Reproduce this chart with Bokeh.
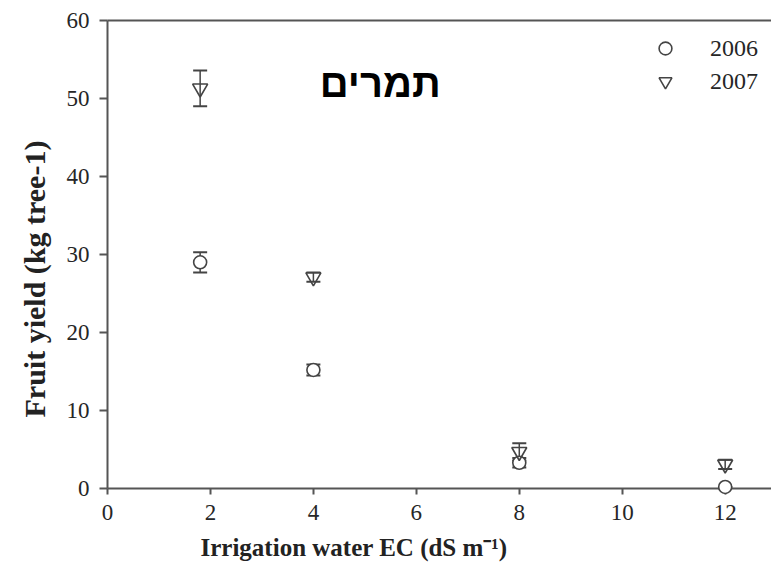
from bokeh.plotting import figure
from bokeh.models import (ColumnDataSource, Whisker, TeeHead, Range1d, LinearAxis,
                          FixedTicker, Legend, LegendItem, Label, Title)
from bokeh.embed import file_html
from bokeh.resources import INLINE

# ---- data ----
ec = [1.8, 4.0, 8.0, 12.0]
yield_2006 = [29.0, 15.2, 3.3, 0.2]
err_2006 = [1.3, 0.7, 0.6, 0.0]
yield_2007 = [51.3, 27.1, 4.7, 3.1]
err_2007 = [2.3, 0.6, 1.1, 0.6]
x_ticks = [0, 2, 4, 6, 8, 10, 12]
y_ticks = [0, 10, 20, 30, 40, 50, 60]
series_labels = ["2006", "2007"]
title_text = "תמרים"
x_title = "Irrigation water EC (dS m\u207b\u00b9)"
y_title = "Fruit yield (kg tree-1)"

src06 = ColumnDataSource(dict(x=ec, y=yield_2006,
                              lo=[a - b for a, b in zip(yield_2006, err_2006)],
                              hi=[a + b for a, b in zip(yield_2006, err_2006)]))
src07 = ColumnDataSource(dict(x=ec, y=yield_2007,
                              lo=[a - b for a, b in zip(yield_2007, err_2007)],
                              hi=[a + b for a, b in zip(yield_2007, err_2007)]))

AX = "#555555"
MK = "#444444"
SERIF = "Liberation Serif"

p = figure(width=771, height=574, output_backend="svg", toolbar_location=None,
           x_range=Range1d(0, 12.9), y_range=Range1d(0, 60),
           min_border_left=107, min_border_right=0, min_border_top=20,
           min_border_bottom=86)
p.outline_line_color = None
p.grid.grid_line_color = None
p.background_fill_color = "white"
p.border_fill_color = "white"

xa = p.xaxis[0]
xa.ticker = FixedTicker(ticks=x_ticks)
ya = p.yaxis[0]
ya.ticker = FixedTicker(ticks=y_ticks)

for ax, tick_out in ((xa, 6), (ya, 8)):
    ax.axis_line_color = AX
    ax.axis_line_width = 2
    ax.major_tick_line_color = AX
    ax.major_tick_line_width = 2
    ax.major_tick_in = 0
    ax.major_tick_out = tick_out
    ax.minor_tick_line_color = None
    ax.major_label_text_font = SERIF
    ax.major_label_text_font_size = "23px"
    ax.major_label_text_color = "#262626"
xa.major_label_standoff = 10
ya.major_label_standoff = 10

# top frame line
top = LinearAxis(ticker=FixedTicker(ticks=[]), major_label_text_font_size="0px",
                 axis_line_color=AX, axis_line_width=2,
                 major_tick_line_color=None, minor_tick_line_color=None)
p.add_layout(top, "above")

# axis titles (as side titles so they can be offset like the reference)
p.add_layout(Title(text=x_title, align="left", offset=93, standoff=18,
                   text_font=SERIF, text_font_style="bold", text_font_size="25px",
                   text_color="#222222"), "below")
p.add_layout(Title(text=y_title, align="left", offset=71, standoff=25,
                   text_font=SERIF, text_font_style="bold", text_font_size="30px",
                   text_color="#222222"), "left")

# error bars
for src in (src06, src07):
    w = Whisker(base="x", upper="hi", lower="lo", source=src, dimension="height",
                line_color=MK, line_width=1.5,
                upper_head=TeeHead(size=14, line_color=MK, line_width=2),
                lower_head=TeeHead(size=14, line_color=MK, line_width=2))
    p.add_layout(w)

r06 = p.scatter("x", "y", source=src06, marker="circle", size=13,
                line_color=MK, line_width=1.6, fill_color="white")
r07 = p.scatter("x", "y", source=src07, marker="inverted_triangle", size=15,
                line_color=MK, line_width=1.6, fill_color=None)
r06.level = "overlay"
r07.level = "overlay"

legend = Legend(items=[LegendItem(label=series_labels[0], renderers=[r06]),
                       LegendItem(label=series_labels[1], renderers=[r07])],
                location=(542, 391), border_line_color=None,
                background_fill_alpha=0, padding=0, margin=0, spacing=1,
                glyph_width=32, glyph_height=32, label_height=32,
                label_standoff=29, label_text_font=SERIF,
                label_text_font_size="24px", label_text_color="#262626")
p.add_layout(legend, "center")

p.add_layout(Label(x=5.3, y=52, text=title_text, text_font="Liberation Sans",
                   text_font_style="bold", text_font_size="40px",
                   text_align="center", text_baseline="middle",
                   text_color="black"))

open("out.html", "w").write(file_html(p, INLINE))
